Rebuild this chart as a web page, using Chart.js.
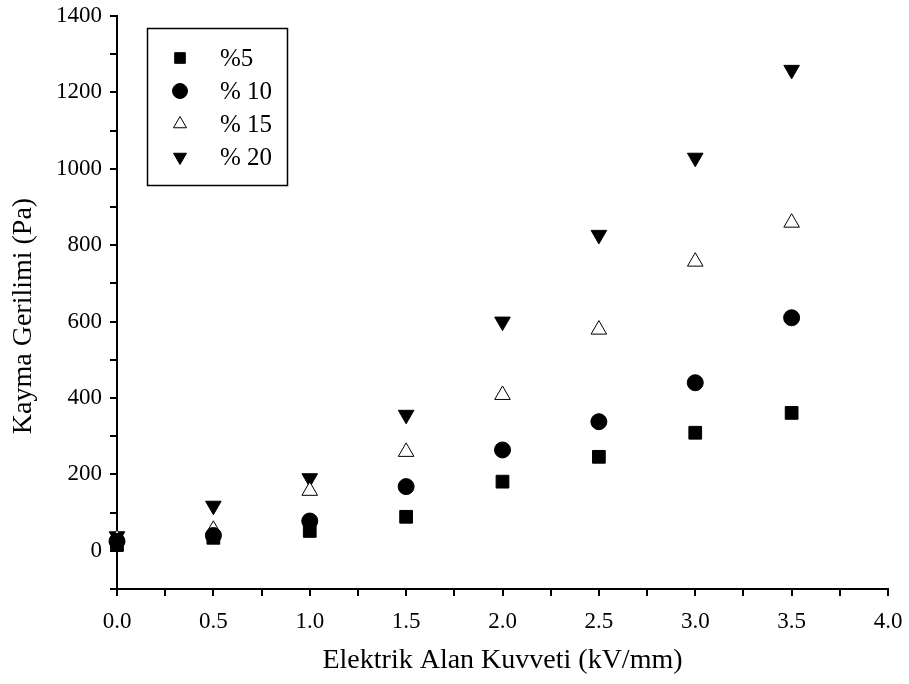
<!DOCTYPE html>
<html lang="tr">
<head>
  <meta charset="UTF-8">
  <title>Kayma Gerilimi</title>
  <script src="https://cdn.jsdelivr.net/npm/chart.js"></script>
  <style>
    body {
      margin: 0;
      padding: 0;
      background: #fff;
    }
    #wrap {
      width: 909px;
      height: 684px;
    }
  </style>
</head>
<body>
  <div id="wrap">
    <canvas id="chart" width="909" height="684"></canvas>
  </div>

  <script>
    // data
    const fieldKV = [0, 0.5, 1.0, 1.5, 2.0, 2.5, 3.0, 3.5];
    const seriesNames = ['%5', '% 10', '% 15', '% 20'];
    const stress5 = [15, 34, 52, 89, 181, 246, 309, 361];
    const stress10 = [25, 40, 78, 168, 264, 338, 440, 610];
    const stress15 = [32, 55, 157, 259, 408, 579, 757, 859];
    const stress20 = [38, 118, 190, 356, 600, 827, 1029, 1259];
    const yTickLabels = [0, 200, 400, 600, 800, 1000, 1200, 1400];
    const xTickLabels = [0, 0.5, 1.0, 1.5, 2.0, 2.5, 3.0, 3.5, 4.0];
    const yTitle = 'Kayma Gerilimi (Pa)';

    const FONT = "'Liberation Serif', 'Times New Roman', serif";

    function toPoints(vals) {
      return fieldKV.map((x, i) => ({ x: x, y: vals[i] }));
    }

    const markers = [
      { style: 'rect', radius: 9, fill: '#000', border: '#000', rot: 0 },
      { style: 'circle', radius: 8, fill: '#000', border: '#000', rot: 0 },
      { style: 'triangle', radius: 9, fill: '#fff', border: '#000', rot: 0 },
      { style: 'triangle', radius: 9, fill: '#000', border: '#000', rot: 180 }
    ];

    const allSeries = [stress5, stress10, stress15, stress20];

    const datasets = allSeries.map((vals, i) => ({
      label: seriesNames[i],
      data: toPoints(vals),
      showLine: false,
      pointStyle: markers[i].style,
      pointRadius: markers[i].radius,
      pointHoverRadius: markers[i].radius,
      pointRotation: markers[i].rot,
      pointBackgroundColor: markers[i].fill,
      pointBorderColor: markers[i].border,
      pointBorderWidth: 1,
      clip: false
    }));

    // legend box inside the plot (top-left) + y title a bit below the axis middle
    const boxLegend = {
      id: 'boxLegend',
      afterDraw(chart) {
        const ctx = chart.ctx;
        ctx.save();
        ctx.strokeStyle = '#000';
        ctx.lineWidth = 1.5;
        ctx.strokeRect(147.5, 28.5, 140, 157);
        ctx.font = '25px ' + FONT;
        ctx.textBaseline = 'middle';
        const rowY = [58, 91, 124, 157];
        chart.data.datasets.forEach((ds, i) => {
          const m = markers[i];
          ctx.fillStyle = m.fill;
          ctx.strokeStyle = m.border;
          ctx.lineWidth = 1;
          Chart.helpers.drawPoint(ctx, {
            pointStyle: m.style,
            radius: 7.5,
            rotation: m.rot,
            borderWidth: 1
          }, 180, rowY[i]);
          ctx.fillStyle = '#000';
          ctx.fillText(ds.label, 220, rowY[i] + 1);
        });

        ctx.translate(24, 316);
        ctx.rotate(-Math.PI / 2);
        ctx.font = '28px ' + FONT;
        ctx.textAlign = 'center';
        ctx.fillStyle = '#000';
        ctx.fillText(yTitle, 0, 0);
        ctx.restore();
      }
    };

    const ctx = document.getElementById('chart').getContext('2d');
    new Chart(ctx, {
      type: 'scatter',
      data: { datasets: datasets },
      options: {
        responsive: false,
        animation: false,
        devicePixelRatio: 1,
        layout: { padding: { left: 0, top: 16, right: 21, bottom: 0 } },
        plugins: {
          legend: { display: false },
          tooltip: { enabled: false }
        },
        scales: {
          x: {
            type: 'linear',
            min: 0,
            max: 4,
            afterFit(scale) {
              scale.height = 95;
              scale.paddingLeft = 0;
              scale.paddingRight = 0;
            },
            afterBuildTicks(scale) {
              const t = [];
              for (let v = 0; v <= 4.0001; v += 0.25) t.push({ value: Math.round(v * 100) / 100 });
              scale.ticks = t;
            },
            ticks: {
              autoSkip: false,
              maxRotation: 0,
              padding: 12,
              color: '#000',
              font: { family: FONT, size: 23 },
              callback(v) {
                return xTickLabels.some(x => Math.abs(x - v) < 1e-6) ? v.toFixed(1) : '';
              }
            },
            grid: {
              drawOnChartArea: false,
              drawTicks: true,
              tickLength: 7,
              tickColor: '#000',
              lineWidth: 2
            },
            border: { display: true, color: '#000', width: 2 },
            title: {
              display: true,
              text: 'Elektrik Alan Kuvveti (kV/mm)',
              color: '#000',
              font: { family: FONT, size: 28 },
              padding: { top: 0, bottom: 7 }
            }
          },
          y: {
            type: 'linear',
            min: -100,
            max: 1400,
            afterFit(scale) {
              scale.width = 117;
              scale.paddingTop = 0;
              scale.paddingBottom = 0;
            },
            ticks: {
              stepSize: 100,
              autoSkip: false,
              padding: 8,
              color: '#000',
              font: { family: FONT, size: 23 },
              callback(v) {
                return yTickLabels.includes(v) ? String(v) : '';
              }
            },
            grid: {
              drawOnChartArea: false,
              drawTicks: true,
              tickLength: 7,
              tickColor: '#000',
              lineWidth: 2
            },
            border: { display: true, color: '#000', width: 2 }
          }
        }
      },
      plugins: [boxLegend]
    });
  </script>
</body>
</html>
